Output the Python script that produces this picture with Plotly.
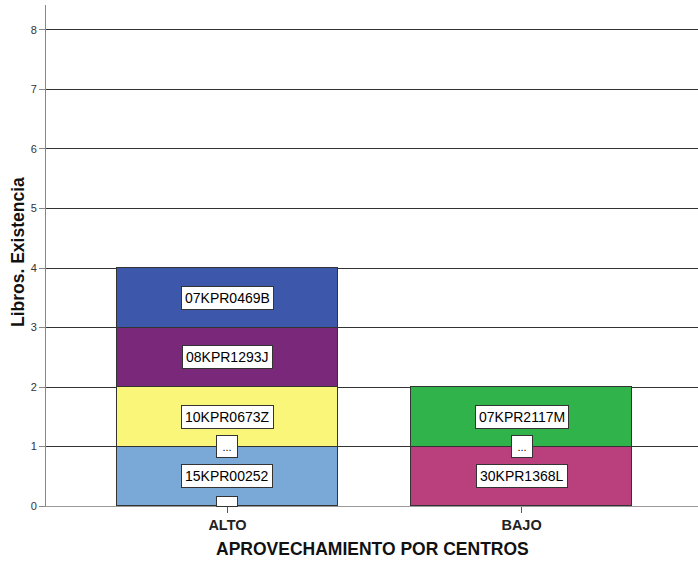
import plotly.graph_objects as go

# Data
categorias = ["ALTO", "BAJO"]
centros = ["15KPR00252", "10KPR0673Z", "08KPR1293J", "07KPR0469B", "30KPR1368L", "07KPR2117M"]
grupo = ["ALTO", "ALTO", "ALTO", "ALTO", "BAJO", "BAJO"]
libros = [1, 1, 1, 1, 1, 1]
colores = ["#7AA8D7", "#FAF67A", "#7A287A", "#3D57AB", "#BA3F7D", "#2FB34A"]
y_ticks = [0, 1, 2, 3, 4, 5, 6, 7, 8]

FONT = "Arial, Liberation Sans, sans-serif"

fig = go.Figure()
for c, g, v, col in zip(centros, grupo, libros, colores):
    fig.add_trace(go.Bar(
        x=[g], y=[v], name=c, marker=dict(color=col, line=dict(color="#333333", width=1)),
        width=0.752, showlegend=False, hoverinfo="name+y"))

# Label boxes
acum = {cat: 0 for cat in categorias}
for c, g, v in zip(centros, grupo, libros):
    base = acum[g]
    fig.add_annotation(x=g, y=base + v / 2, text=c, showarrow=False,
                       font=dict(family=FONT, size=14, color="#000000"),
                       bgcolor="white", bordercolor="#333333", borderwidth=1, borderpad=3)
    acum[g] = base + v

# "..." boxes at stack boundaries
for g in categorias:
    fig.add_annotation(x=g, y=1, text="...", showarrow=False,
                       font=dict(family=FONT, size=11, color="#000000"),
                       bgcolor="white", bordercolor="#333333", borderwidth=1,
                       width=18, height=19, borderpad=1)
fig.add_annotation(x="ALTO", y=0, yanchor="bottom", text=" ", showarrow=False,
                   font=dict(family=FONT, size=6), bgcolor="white",
                   bordercolor="#333333", borderwidth=1, width=18, height=7, borderpad=1, yshift=-1)

# Axis titles
fig.add_annotation(xref="paper", yref="paper", x=0.5015, y=-0.0858, yanchor="middle",
                   text="<b>APROVECHAMIENTO POR CENTROS</b>", showarrow=False,
                   font=dict(family=FONT, size=17.5, color="#111111"))
fig.add_annotation(xref="paper", yref="paper", x=-0.0429, y=0.507, textangle=-90,
                   xanchor="center", yanchor="middle",
                   text="<b>Libros. Existencia</b>", showarrow=False,
                   font=dict(family=FONT, size=17.5, color="#111111"))

fig.update_layout(
    width=698, height=562,
    margin=dict(l=46, r=0, t=5, b=56),
    plot_bgcolor="white", paper_bgcolor="white",
    barmode="stack", bargap=0,
    font=dict(family=FONT),
    xaxis=dict(
        type="category", categoryorder="array", categoryarray=categorias,
        tickvals=categorias, ticktext=["<b>%s</b>" % c for c in categorias],
        range=[-0.617, 1.60], showgrid=False, showline=True, linecolor="#999999", linewidth=1,
        ticks="outside", ticklen=6, tickcolor="#555555", automargin=False,
        tickfont=dict(family=FONT, size=14.5, color="#222222"),
    ),
    yaxis=dict(
        range=[0, 8.42], tickvals=y_ticks, showgrid=True, gridcolor="#333333", gridwidth=1,
        showline=True, linecolor="#888888", linewidth=1, zeroline=False,
        ticks="outside", ticklen=6, tickcolor="#888888", automargin=False,
        tickfont=dict(family=FONT, size=11, color="#333333"),
    ),
)

fig.write_html("out.html", config={"displayModeBar": False},
               post_script="document.body.style.margin='0';")
